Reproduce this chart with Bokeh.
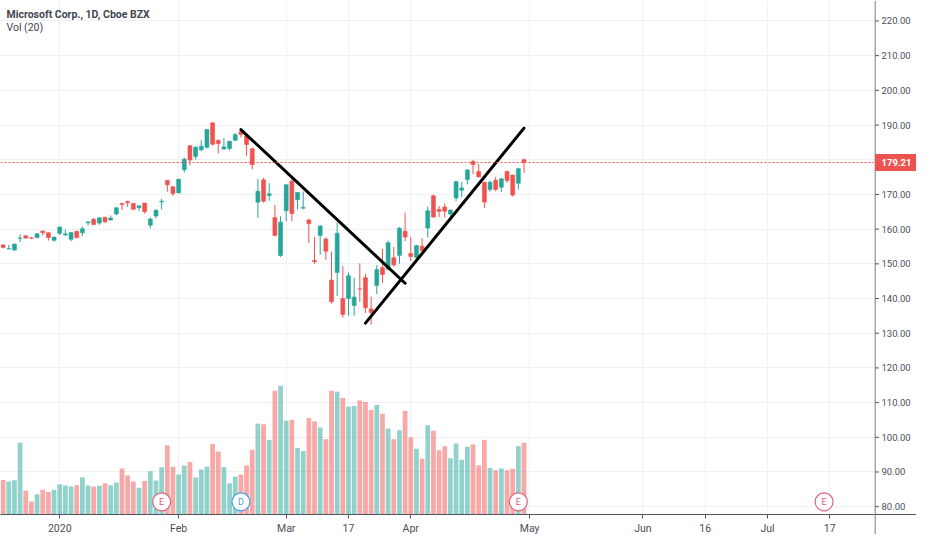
import pandas as pd
from bokeh.plotting import figure
from bokeh.layouts import row
from bokeh.models import ColumnDataSource, Range1d, FixedTicker, Span, Label, Grid
from bokeh.core.properties import value
from bokeh.embed import file_html
from bokeh.resources import INLINE

# ---------------- data ----------------
dates = [
    "2019-12-17", "2019-12-18", "2019-12-19", "2019-12-20", "2019-12-23", "2019-12-24", "2019-12-26", "2019-12-27", "2019-12-30", "2019-12-31",
    "2020-01-02", "2020-01-03", "2020-01-06", "2020-01-07", "2020-01-08", "2020-01-09", "2020-01-10", "2020-01-13", "2020-01-14", "2020-01-15",
    "2020-01-16", "2020-01-17", "2020-01-21", "2020-01-22", "2020-01-23", "2020-01-24", "2020-01-27", "2020-01-28", "2020-01-29", "2020-01-30", "2020-01-31",
    "2020-02-03", "2020-02-04", "2020-02-05", "2020-02-06", "2020-02-07", "2020-02-10", "2020-02-11", "2020-02-12", "2020-02-13", "2020-02-14",
    "2020-02-18", "2020-02-19", "2020-02-20", "2020-02-21", "2020-02-24", "2020-02-25", "2020-02-26", "2020-02-27", "2020-02-28",
    "2020-03-02", "2020-03-03", "2020-03-04", "2020-03-05", "2020-03-06", "2020-03-09", "2020-03-10", "2020-03-11", "2020-03-12", "2020-03-13",
    "2020-03-16", "2020-03-17", "2020-03-18", "2020-03-19", "2020-03-20", "2020-03-23", "2020-03-24", "2020-03-25", "2020-03-26", "2020-03-27",
    "2020-03-30", "2020-03-31",
    "2020-04-01", "2020-04-02", "2020-04-03", "2020-04-06", "2020-04-07", "2020-04-08", "2020-04-09", "2020-04-13", "2020-04-14", "2020-04-15",
    "2020-04-16", "2020-04-17", "2020-04-20", "2020-04-21", "2020-04-22", "2020-04-23", "2020-04-24", "2020-04-27", "2020-04-28", "2020-04-29", "2020-04-30",
]
opens = [
    155.45, 154.30, 154.00, 157.35, 158.12, 157.48, 157.56, 159.45, 158.99, 156.77,
    158.78, 158.32, 157.08, 159.32, 158.93, 161.84, 162.82, 161.76, 163.39, 162.62, 164.35, 167.42, 168.00, 167.40, 166.19, 167.51, 161.15, 163.78, 167.84, 174.05, 172.21,
    170.43, 177.14, 184.03, 180.97, 182.85, 183.58, 190.65, 185.58, 183.08, 183.25, 185.61, 188.06, 186.95, 183.17, 167.77, 174.20, 169.71, 163.32, 152.41,
    165.31, 173.80, 168.49, 166.05, 162.61, 151.00, 158.16, 157.13, 145.30, 147.50, 140.00, 140.00, 138.00, 142.77, 146.00, 137.01, 143.75, 148.91, 148.40, 151.75, 152.44, 159.40,
    153.00, 151.86, 155.10, 160.32, 169.59, 165.67, 166.36, 164.35, 169.00, 171.20, 174.30, 179.50, 176.63, 173.50, 171.39, 174.11, 172.06, 176.59, 175.59, 173.22, 180.00,
]
highs = [
    155.71, 155.48, 155.77, 158.49, 158.12, 157.71, 158.73, 159.55, 159.02, 157.77,
    160.73, 159.95, 159.10, 159.67, 160.80, 162.22, 163.22, 163.31, 163.60, 163.94, 166.24, 167.47, 168.19, 167.49, 166.80, 167.53, 163.38, 165.76, 168.75, 174.05, 172.40,
    174.50, 180.64, 184.20, 183.82, 185.63, 188.84, 190.70, 185.85, 186.23, 185.41, 187.70, 188.18, 187.25, 183.50, 174.55, 174.84, 173.26, 167.03, 163.71,
    172.92, 175.00, 170.70, 170.87, 163.11, 157.75, 161.03, 157.70, 153.47, 161.91, 149.35, 147.50, 146.00, 150.15, 147.10, 140.57, 149.60, 154.33, 156.66, 154.89, 160.60, 164.78,
    157.75, 155.48, 157.38, 166.50, 170.00, 166.67, 167.37, 165.57, 173.75, 173.57, 177.28, 180.00, 178.75, 173.67, 174.00, 175.06, 174.56, 176.90, 175.67, 177.68, 180.40,
]
lows = [
    154.45, 154.18, 153.75, 156.29, 157.27, 157.12, 157.40, 158.22, 156.73, 156.45,
    158.33, 158.06, 156.51, 157.32, 157.95, 161.03, 161.18, 161.26, 161.72, 162.57, 164.03, 165.43, 166.43, 165.68, 165.27, 164.45, 160.20, 163.07, 165.69, 170.79, 169.58,
    170.40, 176.31, 178.41, 180.06, 182.48, 183.25, 184.06, 181.85, 182.87, 182.65, 185.50, 186.47, 181.10, 177.25, 163.23, 167.65, 168.21, 157.98, 152.00,
    162.31, 162.26, 165.62, 165.69, 156.00, 150.00, 152.58, 151.15, 138.58, 140.73, 134.50, 135.00, 135.02, 139.00, 135.86, 132.52, 141.27, 144.44, 148.37, 149.20, 150.01, 156.56,
    150.82, 150.36, 152.19, 157.58, 163.26, 163.50, 163.33, 162.30, 168.00, 169.24, 172.90, 175.87, 174.99, 166.11, 170.82, 170.91, 170.71, 173.30, 169.39, 171.38, 176.23,
]
closes = [
    154.69, 154.37, 155.71, 157.41, 157.41, 157.38, 158.67, 158.96, 157.59, 157.70,
    160.62, 158.62, 159.03, 157.58, 160.09, 162.09, 161.34, 163.28, 162.13, 163.18, 166.17, 167.10, 167.60, 165.70, 166.72, 165.04, 162.90, 165.46, 168.04, 172.78, 170.23,
    174.38, 180.12, 179.90, 183.63, 183.89, 188.70, 184.44, 184.71, 183.71, 185.35, 187.23, 187.28, 184.42, 178.59, 170.89, 168.07, 170.17, 158.18, 162.01,
    172.79, 164.51, 170.55, 166.27, 161.57, 150.62, 160.92, 153.63, 139.06, 158.83, 135.42, 146.57, 140.40, 142.71, 137.35, 135.98, 148.34, 146.92, 156.11, 149.70, 160.23, 157.71,
    152.11, 155.26, 153.83, 165.27, 163.49, 165.13, 165.14, 165.51, 173.70, 171.88, 177.04, 178.60, 175.06, 167.82, 173.52, 171.42, 174.55, 174.05, 169.81, 177.43, 179.21,
]
volumes_m = [
    25.9, 24.7, 25.7, 53.8, 18.1, 9.8, 15.2, 18.6, 16.9, 18.6,
    22.7, 21.8, 21.1, 22.0, 27.9, 21.8, 21.1, 21.5, 23.5, 22.0, 24.0, 34.5, 29.3, 24.7, 20.0, 25.2, 32.5, 25.5, 35.4, 51.9, 35.9,
    30.1, 36.7, 39.4, 27.7, 33.7, 35.9, 53.0, 47.2, 35.4, 23.5, 28.4, 30.1, 36.7, 48.6, 68.2, 67.7, 56.0, 92.9, 96.6,
    70.4, 71.1, 49.9, 47.7, 72.4, 69.9, 65.3, 56.5, 92.9, 92.2, 87.5, 80.9, 81.4, 85.6, 84.4, 78.5, 82.2, 75.6, 64.5, 56.5, 63.3, 77.8,
    57.9, 49.4, 41.8, 67.0, 62.9, 48.2, 51.3, 42.3, 53.3, 41.1, 50.8, 52.6, 36.9, 56.0, 35.0, 33.2, 34.5, 33.2, 34.3, 51.3, 53.8,
]
holidays = ["2019-12-25", "2020-01-01", "2020-01-20", "2020-02-17", "2020-04-10", "2020-05-25", "2020-07-03"]
tick_dates = ["2020-01-02", "2020-02-03", "2020-03-02", "2020-03-17", "2020-04-01", "2020-05-01",
              "2020-06-01", "2020-06-16", "2020-07-01", "2020-07-17"]
tick_labels = ["2020", "Feb", "Mar", "17", "Apr", "May", "Jun", "16", "Jul", "17"]
price_ticks = [80, 90, 100, 110, 120, 130, 140, 150, 160, 170, 180, 190, 200, 210, 220]
last_price = 179.21
event_dates = ["2020-01-29", "2020-02-19", "2020-04-29", "2020-07-16"]
event_kinds = ["E", "D", "E", "E"]
trend_dates = [["2020-02-19", "2020-03-31"], ["2020-03-20", "2020-04-30"]]
trend_prices = [[188.7, 144.4], [132.9, 189.1]]
title_text = "Microsoft Corp., 1D, Cboe BZX"
vol_text = "Vol (20)"

# ---------------- trading-day index ----------------
cal = [d.strftime("%Y-%m-%d") for d in pd.bdate_range("2019-12-17", "2020-08-31")]
cal = [d for d in cal if d not in holidays]
zero = cal.index("2020-01-02")
pos = {d: i - zero for i, d in enumerate(cal)}

UP, DOWN = "#26a69a", "#ef5350"
FONT = "Roboto"
TXT = "#4a4e59"
AXC = "#50535e"
GRID = "#eef1f5"

xs = [pos[d] for d in dates]
colors = [UP if c >= o else DOWN for o, c in zip(opens, closes)]
src = ColumnDataSource(dict(
    x=xs, o=opens, h=highs, l=lows, c=closes,
    top=[max(o, c) for o, c in zip(opens, closes)],
    bottom=[min(o, c) for o, c in zip(opens, closes)],
    v=volumes_m, color=colors,
))

FW, FH, AXW, XAH = 874, 514, 42, 20
X0, X1 = -10.46, 143.9
Y0, Y1 = 77.75, 225.9

p = figure(frame_width=FW, frame_height=FH, output_backend="svg", toolbar_location=None,
           x_range=Range1d(X0, X1), y_range=Range1d(Y0, Y1), y_axis_location=None,
           min_border_left=0, min_border_top=0, min_border_right=0, min_border_bottom=0,
           background_fill_color="white", border_fill_color="white")
p.outline_line_color = None
p.extra_y_ranges = {"vol": Range1d(0, 385.8)}
p.add_layout(Grid(dimension=1, ticker=FixedTicker(ticks=price_ticks), grid_line_color=GRID))

# volume
p.vbar(x="x", top="v", bottom=0, width=0.84, fill_color="color", line_color=None,
       fill_alpha=0.5, y_range_name="vol", source=src)
# candles
p.segment(x0="x", y0="h", x1="x", y1="l", line_color="color", line_width=1, source=src)
p.vbar(x="x", top="top", bottom="bottom", width=0.7, fill_color="color", line_color="color",
       line_width=0.6, source=src)

# last price line
p.add_layout(Span(location=last_price, dimension="width", line_color=DOWN,
                  line_dash="2 2", line_width=1))

# trend lines
for td, tp in zip(trend_dates, trend_prices):
    p.line(x=[pos[d] for d in td], y=tp, line_color="black", line_width=3, line_cap="round")

# events
ev_colors = ["#e0607a" if k == "E" else "#3f9ded" for k in event_kinds]
ev_src = ColumnDataSource(dict(x=[pos[d] for d in event_dates], y=[81.4] * len(event_dates),
                               t=event_kinds, c=ev_colors))
p.scatter(x="x", y="y", marker="circle", size=18, fill_color="white", line_color="c",
          line_width=1.2, source=ev_src)
p.text(x="x", y="y", text="t", text_color="c", text_align="center", text_baseline="middle",
       text_font=value(FONT), text_font_size="9px", source=ev_src)

# time axis
ax = p.xaxis[0]
ax.ticker = FixedTicker(ticks=[pos[d] for d in tick_dates])
ax.major_label_overrides = {pos[d]: lab for d, lab in zip(tick_dates, tick_labels)}
ax.axis_line_color = AXC
ax.major_tick_line_color = AXC
ax.major_tick_in = 0
ax.major_tick_out = 4
ax.minor_tick_line_color = None
ax.major_label_standoff = 3
ax.major_label_text_font = FONT
ax.major_label_text_color = TXT
ax.major_label_text_font_size = "10.5px"
p.xgrid.grid_line_color = GRID

# legend texts
p.add_layout(Label(x=X0, y=222.0, x_offset=6, text=title_text, text_font=FONT, text_font_style="bold",
                   text_font_size="10.5px", text_color="#434651", text_baseline="middle"))
p.add_layout(Label(x=X0, y=218.2, x_offset=6, text=vol_text, text_font=FONT,
                   text_font_size="10.5px", text_color="#434651", text_baseline="middle"))

# ---------------- price scale (right) ----------------
per_px = (Y1 - Y0) / FH
s = figure(frame_width=AXW, frame_height=FH + XAH, output_backend="svg", toolbar_location=None,
           x_range=Range1d(0, AXW), y_range=Range1d(Y0 - XAH * per_px, Y1),
           x_axis_location=None, y_axis_location=None,
           min_border_left=0, min_border_top=0, min_border_right=0, min_border_bottom=0,
           background_fill_color="white", border_fill_color="white")
s.outline_line_color = None
s.grid.visible = False
s.segment(x0=[0.5], y0=[Y0 - XAH * per_px], x1=[0.5], y1=[Y1], line_color=AXC, line_width=1)
s.segment(x0=[-1, 0.5], y0=[Y0, Y0], x1=[0.5, AXW], y1=[Y0, Y0], line_color=AXC, line_width=1)
s.segment(x0=[0.5] * len(price_ticks), y0=price_ticks, x1=[4.5] * len(price_ticks), y1=price_ticks,
          line_color=AXC, line_width=1)
s.text(x=[7] * len(price_ticks), y=price_ticks, text=[f"{t:.2f}" for t in price_ticks],
       text_color=TXT, text_font=value(FONT), text_font_size="9.5px", text_baseline="middle")
s.rect(x=[AXW / 2 + 0.5], y=[last_price], width=AXW, height=17, width_units="data", height_units="screen",
       fill_color=DOWN, line_color=None)
s.text(x=[7], y=[last_price], text=[f"{last_price:.2f}"], text_color="white", text_font=value(FONT),
       text_font_size="9.5px", text_baseline="middle", text_font_style="bold")

layout = row(p, s)
open("out.html", "w").write(file_html(layout, INLINE))
